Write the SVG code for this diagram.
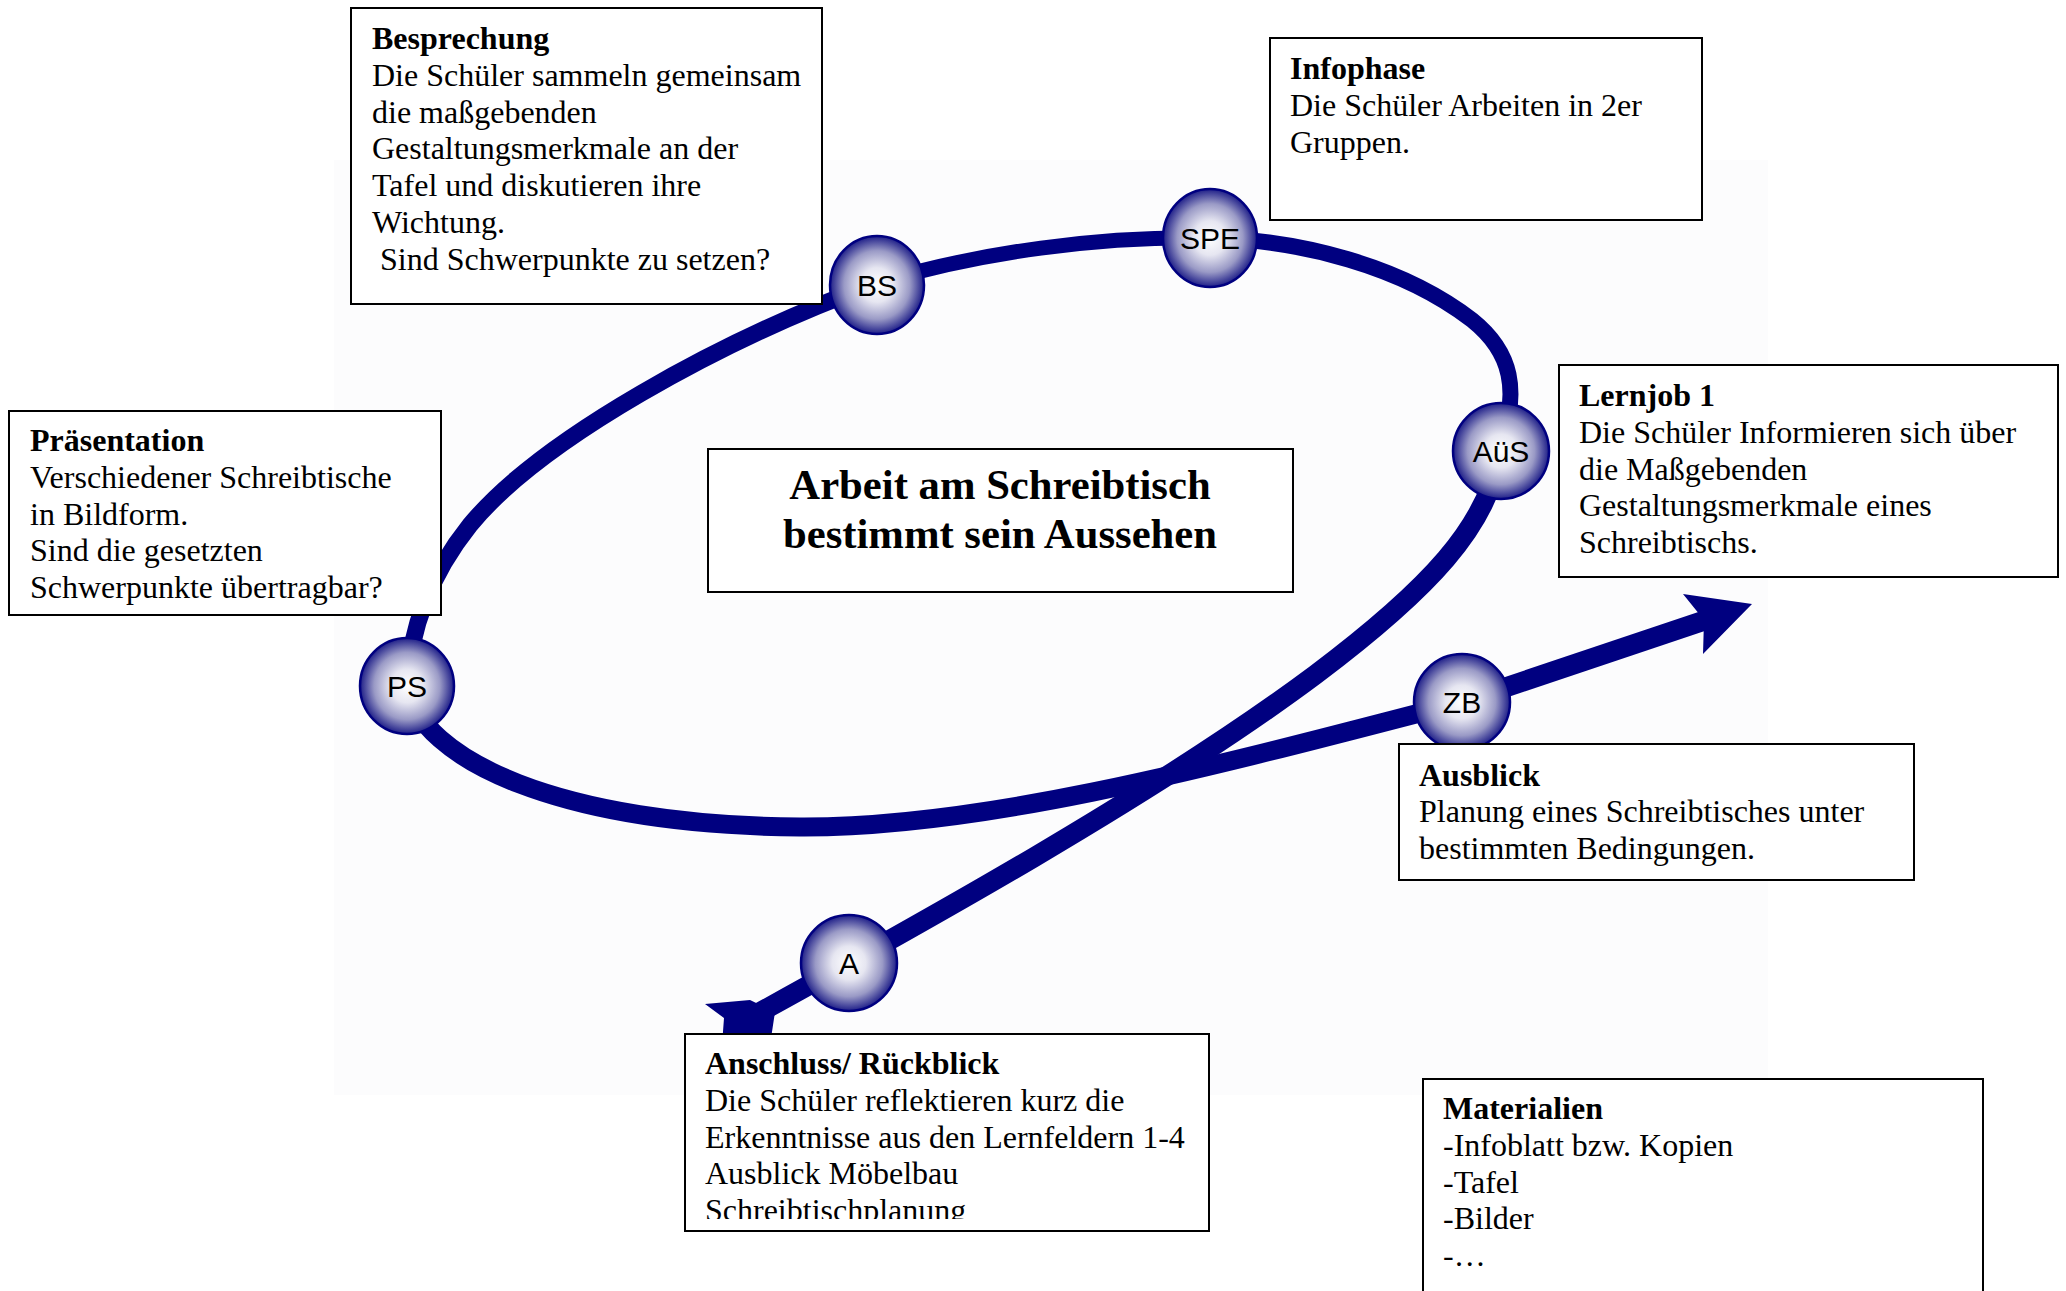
<svg xmlns="http://www.w3.org/2000/svg" width="2066" height="1291" viewBox="0 0 2066 1291">
<defs>
<radialGradient id="ball" cx="50%" cy="50%" r="50%">
<stop offset="0" stop-color="#ffffff"/>
<stop offset="0.35" stop-color="#e6e6f1"/>
<stop offset="0.7" stop-color="#9a9ac6"/>
<stop offset="1" stop-color="#1e1e88"/>
</radialGradient>
<clipPath id="clipA"><rect x="686" y="1035" width="522" height="184"/></clipPath>
</defs>
<style>
.box{fill:#ffffff;stroke:#000000;stroke-width:2}
.t{font-family:"Liberation Serif","Times New Roman",serif;font-size:32px;fill:#000000;white-space:pre}
.b{font-weight:bold}
.title{font-family:"Liberation Serif","Times New Roman",serif;font-size:42.7px;font-weight:bold;fill:#000000;text-anchor:middle}
.ln{fill:none;stroke:#000080;stroke-linecap:butt}
.ball{fill:url(#ball);stroke:#000080;stroke-width:2.5}
.lbl{font-family:"Liberation Sans",Arial,sans-serif;font-size:30px;fill:#000000;text-anchor:middle}
</style>
<rect x="0" y="0" width="2066" height="1291" fill="#ffffff"/>
<rect x="334" y="160" width="1434" height="935" fill="#fcfcfd"/>

<g id="connectors">
<path class="ln" stroke-width="20" d="M 744,1021 C 900,935 1150,798 1315,675 C 1428,590 1490,525 1500,450"/>
<path class="ln" stroke-width="16" d="M 1500,450 C 1520,390 1512,352 1472,320 C 1402,266 1300,240 1211,238"/>
<path class="ln" stroke-width="15" d="M 1211,238 C 1100,236 980,252 877,283"/>
<path class="ln" stroke-width="17" d="M 877,283 C 720,340 540,440 470,525 C 430,575 410,630 407,686"/>
<path class="ln" stroke-width="19" d="M 407,686 C 420,760 560,825 800,827 C 990,828 1230,762 1462,702"/>
<path class="ln" stroke-width="20" d="M 1462,702 L 1706,620"/>
<polygon fill="#000080" points="1752,604 1683,594 1704,620 1703,654"/>
<polygon fill="#000080" points="705,1004 750,1000 775,1012 770,1045 722,1045 724,1018"/>
</g>

<g id="node-BS"><ellipse class="ball" cx="877" cy="285" rx="47" ry="49"/><text class="lbl" x="877" y="296">BS</text></g>
<g id="node-SPE"><ellipse class="ball" cx="1210" cy="238" rx="47" ry="49"/><text class="lbl" x="1210" y="249">SPE</text></g>
<g id="node-AUS"><ellipse class="ball" cx="1501" cy="451" rx="48" ry="48"/><text class="lbl" x="1501" y="462">AüS</text></g>
<g id="node-ZB"><ellipse class="ball" cx="1462" cy="702" rx="48" ry="48"/><text class="lbl" x="1462" y="713">ZB</text></g>
<g id="node-PS"><ellipse class="ball" cx="407" cy="686" rx="47" ry="48"/><text class="lbl" x="407" y="697">PS</text></g>
<g id="node-A"><ellipse class="ball" cx="849" cy="963" rx="48" ry="48"/><text class="lbl" x="849" y="974">A</text></g>

<g id="box-besprechung">
<rect class="box" x="351" y="8" width="471" height="296"/>
<text class="t b" x="372" y="49">Besprechung</text>
<text class="t" x="372" y="86">Die Schüler sammeln gemeinsam</text>
<text class="t" x="372" y="123">die maßgebenden</text>
<text class="t" x="372" y="159">Gestaltungsmerkmale an der</text>
<text class="t" x="372" y="196">Tafel und diskutieren ihre</text>
<text class="t" x="372" y="233">Wichtung.</text>
<text class="t" x="372" y="270"> Sind Schwerpunkte zu setzen?</text>
</g>

<g id="box-infophase">
<rect class="box" x="1270" y="38" width="432" height="182"/>
<text class="t b" x="1290" y="79">Infophase</text>
<text class="t" x="1290" y="116">Die Schüler Arbeiten in 2er</text>
<text class="t" x="1290" y="153">Gruppen.</text>
</g>

<g id="box-praesentation">
<rect class="box" x="9" y="411" width="432" height="204"/>
<text class="t b" x="30" y="451">Präsentation</text>
<text class="t" x="30" y="488">Verschiedener Schreibtische</text>
<text class="t" x="30" y="525">in Bildform.</text>
<text class="t" x="30" y="561">Sind die gesetzten</text>
<text class="t" x="30" y="598">Schwerpunkte übertragbar?</text>
</g>

<g id="box-lernjob">
<rect class="box" x="1559" y="365" width="499" height="212"/>
<text class="t b" x="1579" y="406">Lernjob 1</text>
<text class="t" x="1579" y="443">Die Schüler Informieren sich über</text>
<text class="t" x="1579" y="480">die Maßgebenden</text>
<text class="t" x="1579" y="516">Gestaltungsmerkmale eines</text>
<text class="t" x="1579" y="553">Schreibtischs.</text>
</g>

<g id="box-center">
<rect class="box" x="708" y="449" width="585" height="143"/>
<text class="title" x="1000" y="499">Arbeit am Schreibtisch</text>
<text class="title" x="1000" y="548">bestimmt sein Aussehen</text>
</g>

<g id="box-ausblick">
<rect class="box" x="1399" y="744" width="515" height="136"/>
<text class="t b" x="1419" y="786">Ausblick</text>
<text class="t" x="1419" y="822">Planung eines Schreibtisches unter</text>
<text class="t" x="1419" y="859">bestimmten Bedingungen.</text>
</g>

<g id="box-anschluss">
<rect class="box" x="685" y="1034" width="524" height="197"/>
<g clip-path="url(#clipA)">
<text class="t b" x="705" y="1074">Anschluss/ Rückblick</text>
<text class="t" x="705" y="1111">Die Schüler reflektieren kurz die</text>
<text class="t" x="705" y="1148">Erkenntnisse aus den Lernfeldern 1-4</text>
<text class="t" x="705" y="1184">Ausblick Möbelbau</text>
<text class="t" x="705" y="1221">Schreibtischplanung</text>
</g>
</g>

<g id="box-materialien">
<rect class="box" x="1423" y="1079" width="560" height="240"/>
<text class="t b" x="1443" y="1119">Materialien</text>
<text class="t" x="1443" y="1156">-Infoblatt bzw. Kopien</text>
<text class="t" x="1443" y="1193">-Tafel</text>
<text class="t" x="1443" y="1229">-Bilder</text>
<text class="t" x="1443" y="1266">-…</text>
</g>
</svg>
